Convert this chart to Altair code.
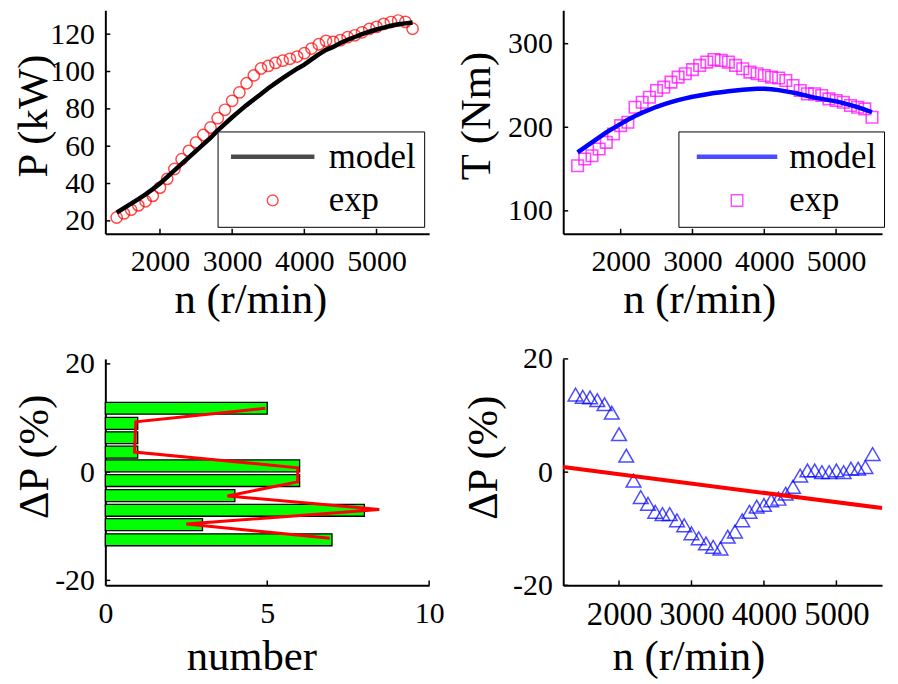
import altair as alt
import pandas as pd

FONT = "Liberation Serif"

# ---------------- data ----------------
n_rpm = [1400, 1500, 1600, 1700, 1800, 1900, 2000, 2100, 2200, 2300,
         2400, 2500, 2600, 2700, 2800, 2900, 3000, 3100, 3200, 3300,
         3400, 3500, 3600, 3700, 3800, 3900, 4000, 4100, 4200, 4300,
         4400, 4500, 4600, 4700, 4800, 4900, 5000, 5100, 5200, 5300,
         5400, 5500]

p_exp = [21.8, 24.0, 26.0, 28.3, 30.5, 33.4, 37.8, 42.5, 47.8, 53.0,
         57.5, 62.0, 66.0, 70.0, 75.0, 79.5, 84.3, 88.8, 93.7, 97.9,
         101.6, 103.0, 104.6, 105.8, 106.8, 108.0, 109.8, 112.3, 114.6, 116.4,
         115.9, 116.8, 118.4, 119.4, 121.0, 122.8, 123.9, 125.5, 126.5, 127.3,
         126.6, 122.9]

p_model = [24.4, 26.8, 29.2, 31.7, 34.2, 37.0, 40.0, 43.5, 47.0, 50.5,
           54.0, 57.5, 61.0, 64.5, 68.5, 72.0, 75.5, 78.8, 82.0, 85.0,
           88.0, 91.0, 93.8, 96.5, 99.0, 101.5, 103.7, 106.5, 109.2, 111.6,
           113.2, 115.3, 117.0, 118.5, 120.0, 121.3, 122.5, 123.5, 124.5, 125.3,
           125.8, 126.3]

t_exp = [154, 162, 166, 174, 182, 192, 202, 206, 224, 230,
         236, 244, 248, 254, 260, 264, 269, 274, 278, 281,
         280, 278, 274, 270, 266, 264, 262, 260, 259, 256,
         250, 244, 240, 240, 238, 234, 232, 230, 226, 224,
         222, 212]

t_model = [170, 176, 182, 188, 194, 199, 204, 209, 213.5, 217.5,
           221, 224.5, 227.5, 230, 232.5, 234.5, 236.5, 238, 239.5, 241,
           242, 243, 244, 245, 245.5, 246, 246, 245.5, 244.5, 243,
           241.5, 239.5, 237.5, 235.5, 234, 232.5, 231, 229, 226.5, 224,
           221, 218]

dp_exp = [13.7, 13.3, 13.2, 12.7, 12.0, 10.5, 6.7, 2.9, -1.5, -4.4,
          -5.6, -7.0, -7.4, -7.4, -8.5, -9.4, -10.8, -11.7, -12.6, -13.2,
          -13.5, -11.4, -10.5, -8.5, -7.0, -6.1, -5.8, -5.0, -4.7, -3.8,
          -2.6, -0.6, 0.3, 0.3, 0.0, 0.0, 0.3, 0.0, 0.6, 0.6,
          0.9, 3.2]

fit_n = [1230, 5630]
fit_dp = [0.9, -6.35]

hist_center = [11.8, 9.0, 6.35, 3.7, 1.15, -1.55, -4.35, -7.05, -9.7, -12.5]
hist_count = [5, 1, 1, 1, 6, 6, 4, 8, 3, 7]

poly_count = [4.94, 0.94, 0.9, 5.94, 5.94, 3.77, 8.46, 2.5, 6.93]
poly_dp = [11.8, 9.3, 3.7, 0.8, -1.8, -4.4, -6.9, -9.6, -12.2]

n_ticks = [2000, 3000, 4000, 5000]
p_ticks = [20, 40, 60, 80, 100, 120]
t_ticks = [100, 200, 300]
dp_ticks = [-20, 0, 20]
cnt_ticks = [0, 5, 10]

series = ["model", "exp"]

# legend symbol paths (unit coordinates, scaled by the symbol size)
LINE_TL = "M-4,-0.15H4M-4,-0.05H4M-4,0.05H4M-4,0.15H4"
LINE_TR = "M-3.86,-0.15H3.86M-3.86,-0.05H3.86M-3.86,0.05H3.86M-3.86,0.15H3.86"
CIRCLE = "M0.52,0A0.52,0.52 0 1,1 -0.52,0A0.52,0.52 0 1,1 0.52,0Z"
SQUARE = "M-0.55,-0.55H0.55V0.55H-0.55Z"


# ---------------- helpers ----------------
def x_axis(values, title, tx, ty, size=30, pad=13):
    return alt.Axis(values=values, title=title, ticks=False, grid=False,
                    domainColor="black", domainWidth=2,
                    labelFont=FONT, labelFontSize=size, labelColor="black",
                    labelPadding=pad, labelOverlap=False, labelFlush=False,
                    labelExpr="'' + datum.value",
                    titleFont=FONT, titleFontSize=43, titleFontWeight="normal",
                    titleColor="black", titleX=tx, titleY=ty,
                    titleAlign="center", titleBaseline="alphabetic")


def y_axis(values, title, tx, ty, size=30, pad=11):
    return alt.Axis(values=values, title=title, ticks=False, grid=False,
                    domainColor="black", domainWidth=2,
                    labelFont=FONT, labelFontSize=size, labelColor="black",
                    labelPadding=pad, labelOverlap=False, labelFlush=False,
                    labelExpr="'' + datum.value",
                    titleFont=FONT, titleFontSize=43, titleFontWeight="normal",
                    titleColor="black", titleX=tx, titleY=ty, titleAngle=270,
                    titleAlign="center", titleBaseline="alphabetic")


def make_legend(line_path, mark_path, sym_off, lab_off, pad, lx, ly):
    return alt.Legend(
        title=None, orient="none", legendX=lx, legendY=ly, padding=pad,
        fillColor="white", strokeColor="black",
        symbolType={"expr": "datum.value === 'model' ? '%s' : '%s'" % (line_path, mark_path)},
        symbolSize=441, symbolStrokeWidth=1.4, symbolFillColor="transparent",
        symbolOffset=sym_off, labelOffset=lab_off, rowPadding=8,
        labelFont=FONT, labelFontSize=35, labelColor="black")


def tick_layers(xfield, yfield, xs, ys, xvals, yvals, h):
    xt = alt.Chart(pd.DataFrame({xfield: xvals})).mark_rule(
        color="black", strokeWidth=1.5).encode(
        x=xs, y=alt.value(h), y2=alt.value(h - 5))
    yt = alt.Chart(pd.DataFrame({yfield: yvals})).mark_rule(
        color="black", strokeWidth=1.5).encode(
        y=ys, x=alt.value(0), x2=alt.value(5))
    return [xt, yt]


W1, W2 = 326, 321
H1, H2 = 225, 228

# ---- top left: power ----
xs = alt.X("n:Q", scale=alt.Scale(domain=[1243, 5729], nice=False, zero=False),
           axis=x_axis(n_ticks, "n (r/min)", 146, 79))
ys = alt.Y("v:Q", scale=alt.Scale(domain=[13.1, 132.8], nice=False, zero=False),
           axis=y_axis(p_ticks, "P (kW)", -59, 106))
col = alt.Color("s:N", scale=alt.Scale(domain=series, range=["#000000", "#ff0000"]),
                legend=make_legend(LINE_TL, CIRCLE, 30, 39, 8, 113, 122))
d_exp = pd.DataFrame({"n": n_rpm, "v": p_exp, "s": "exp"})
d_mod = pd.DataFrame({"n": n_rpm, "v": p_model, "s": "model"})
tl = alt.layer(
    alt.Chart(d_exp).mark_point(shape="circle", filled=False, size=130,
                                strokeWidth=1.5).encode(x=xs, y=ys, color=col),
    alt.Chart(d_mod).mark_line(strokeWidth=4.5).encode(x=xs, y=ys, color=col),
    *tick_layers("n", "v", xs, ys, n_ticks, p_ticks, H1),
).properties(width=W1, height=H1)

# ---- top right: torque ----
xs = alt.X("n:Q", scale=alt.Scale(domain=[1200, 5640], nice=False, zero=False),
           axis=x_axis(n_ticks, "n (r/min)", 137, 79))
ys = alt.Y("v:Q", scale=alt.Scale(domain=[72.6, 340], nice=False, zero=False),
           axis=y_axis(t_ticks, "T (Nm)", -74, 106))
col = alt.Color("s:N", scale=alt.Scale(domain=series, range=["#0000ff", "#ff00ff"]),
                legend=make_legend(LINE_TR, SQUARE, 33.5, 35, 8, 116, 122))
d_exp = pd.DataFrame({"n": n_rpm, "v": t_exp, "s": "exp"})
d_mod = pd.DataFrame({"n": n_rpm, "v": t_model, "s": "model"})
tr = alt.layer(
    alt.Chart(d_exp).mark_point(shape="square", filled=False, size=135,
                                strokeWidth=1.6).encode(x=xs, y=ys, color=col),
    alt.Chart(d_mod).mark_line(strokeWidth=4.5).encode(x=xs, y=ys, color=col),
    *tick_layers("n", "v", xs, ys, n_ticks, t_ticks, H1),
).properties(width=W2, height=H1)

# ---- bottom left: histogram ----
xs = alt.X("k:Q", scale=alt.Scale(domain=[0, 10], nice=False, zero=False),
           axis=x_axis(cnt_ticks, "number", 147, 85))
ys = alt.Y("c:Q", scale=alt.Scale(domain=[-20, 20], nice=False, zero=False),
           axis=y_axis(dp_ticks, "ΔP (%)", -58, 98))
d_h = pd.DataFrame({"c": hist_center, "k": hist_count})
d_p = pd.DataFrame({"c": poly_dp, "k": poly_count, "i": list(range(len(poly_dp)))})
bl = alt.layer(
    alt.Chart(d_h).mark_bar(orient="horizontal", size=12, color="#00ff00",
                            stroke="black", strokeWidth=1.3).encode(x=xs, y=ys),
    alt.Chart(d_p).mark_line(color="#ff0000", strokeWidth=3).encode(
        x=xs, y=ys, order="i:Q"),
    *tick_layers("k", "c", xs, ys, [5, 10], dp_ticks, H2),
).properties(width=W1, height=H2)

# ---- bottom right: deviation vs speed ----
xs = alt.X("n:Q", scale=alt.Scale(domain=[1230, 5630], nice=False, zero=False),
           axis=x_axis(n_ticks, "n (r/min)", 126, 85, size=33))
ys = alt.Y("v:Q", scale=alt.Scale(domain=[-20, 20], nice=False, zero=False),
           axis=y_axis(dp_ticks, "ΔP (%)", -67, 99))
d_dp = pd.DataFrame({"n": n_rpm, "v": dp_exp})
d_fit = pd.DataFrame({"n": fit_n, "v": fit_dp})
br = alt.layer(
    alt.Chart(d_dp).mark_point(shape="triangle-up", filled=False, size=220,
                               strokeWidth=1.5, color="#0000ff").encode(x=xs, y=ys),
    alt.Chart(d_fit).mark_line(color="#ff0000", strokeWidth=4).encode(x=xs, y=ys),
    *tick_layers("n", "v", xs, ys, n_ticks, dp_ticks, H2),
).properties(width=W2, height=H2)

chart = alt.concat(tl, tr, bl, br, columns=2,
                   spacing={"row": 126, "column": 135}, bounds="flush")
chart = chart.properties(padding={"left": 5, "top": 0, "right": 0, "bottom": 0},
                         background="white")
chart = chart.configure_view(stroke=None).resolve_scale(color="independent")

chart.save("out.html", embed_options={"renderer": "svg", "actions": False})
